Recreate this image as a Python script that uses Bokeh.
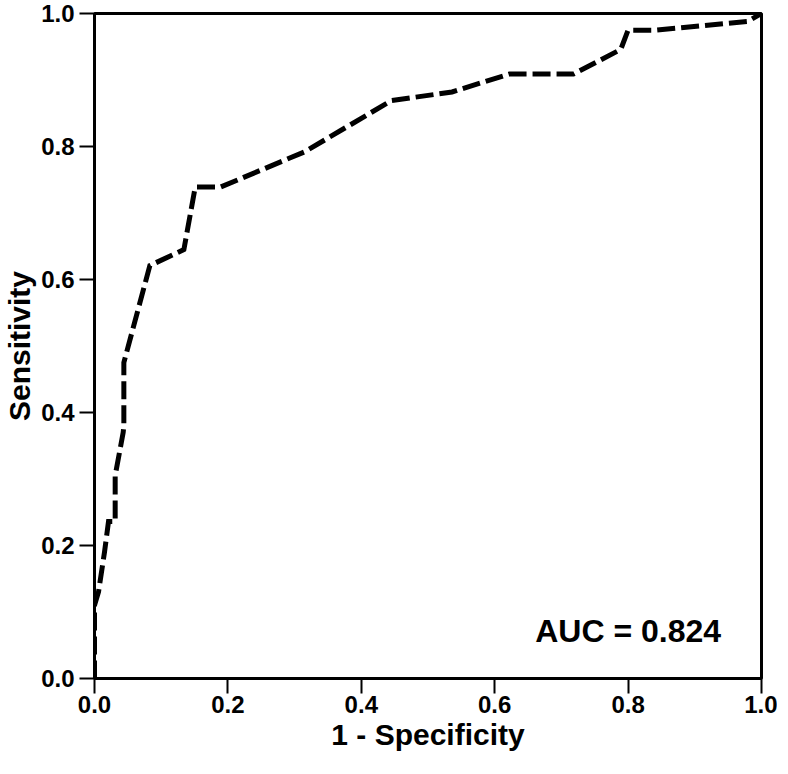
from bokeh.plotting import figure
from bokeh.models import Range1d, FixedTicker, PrintfTickFormatter, Label
from bokeh.embed import file_html
from bokeh.resources import INLINE

# ROC curve points
fpr = [0.0, 0.0, 0.006, 0.015, 0.021, 0.031, 0.031, 0.043, 0.044, 0.044,
       0.083, 0.134, 0.151, 0.189, 0.315, 0.445, 0.536, 0.622, 0.718,
       0.789, 0.800, 0.840, 0.979, 1.0]
tpr = [0.0, 0.11, 0.13, 0.19, 0.236, 0.236, 0.305, 0.370, 0.380, 0.475,
       0.621, 0.645, 0.739, 0.739, 0.792, 0.869, 0.882, 0.909, 0.909,
       0.946, 0.975, 0.975, 0.988, 1.0]
ticks = [0.0, 0.2, 0.4, 0.6, 0.8, 1.0]
x_title = "1 - Specificity"
y_title = "Sensitivity"
auc_text = "AUC = 0.824"

FONT = "Liberation Sans"

p = figure(frame_width=667, frame_height=665,
           x_range=Range1d(0, 1), y_range=Range1d(0, 1),
           output_backend="svg", toolbar_location=None,
           min_border_left=89, min_border_right=16, min_border_top=13,
           min_border_bottom=0)

p.line(fpr, tpr, line_color="black", line_width=5, line_dash="18 6",
       line_cap="butt", line_join="miter")

p.xgrid.visible = False
p.ygrid.visible = False
p.outline_line_color = "black"
p.outline_line_width = 3
p.outline_line_alpha = 1.0
p.background_fill_color = "white"
p.border_fill_color = "white"

for ax in (p.xaxis[0], p.yaxis[0]):
    ax.ticker = FixedTicker(ticks=ticks)
    ax.formatter = PrintfTickFormatter(format="%.1f")
    ax.axis_line_color = "black"
    ax.axis_line_width = 3
    ax.major_tick_line_color = "black"
    ax.major_tick_line_width = 2
    ax.major_tick_in = 0
    ax.major_tick_out = 15
    ax.minor_tick_line_color = None
    ax.major_label_text_font = FONT
    ax.major_label_text_font_style = "bold"
    ax.major_label_text_font_size = "24px"
    ax.major_label_text_color = "black"
    ax.axis_label_text_font = FONT
    ax.axis_label_text_font_style = "bold"
    ax.axis_label_text_font_size = "30px"
    ax.axis_label_text_color = "black"

p.xaxis.axis_label = x_title
p.yaxis.axis_label = y_title
p.xaxis.major_label_standoff = 2
p.xaxis.axis_label_standoff = 2
p.yaxis.major_label_standoff = 5
p.yaxis.axis_label_standoff = 2

auc = Label(x=0.80, y=0.072, text=auc_text, text_align="center",
            text_baseline="alphabetic", text_font=FONT,
            text_font_style="bold", text_font_size="32px", text_color="black")
p.add_layout(auc)

open("out.html", "w").write(file_html(p, INLINE))
